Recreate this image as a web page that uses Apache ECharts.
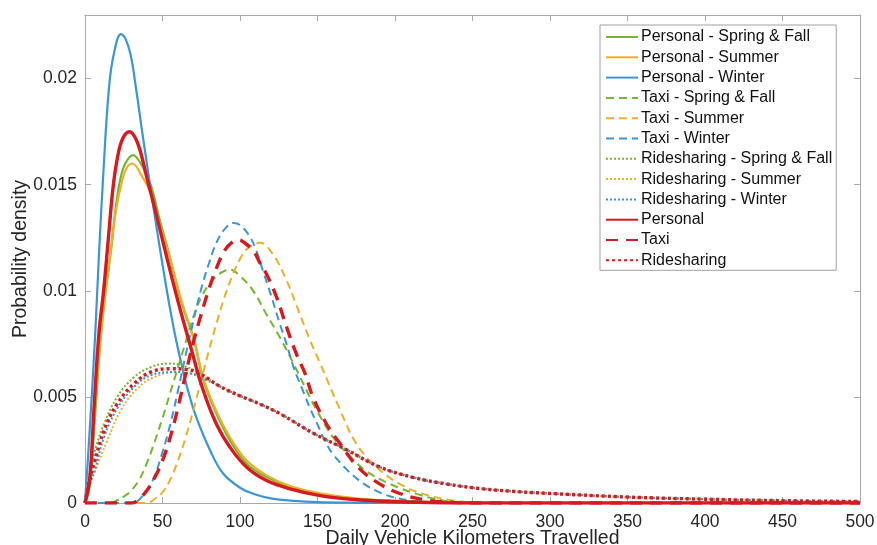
<!DOCTYPE html>
<html>
<head>
<meta charset="utf-8">
<script src="https://cdn.jsdelivr.net/npm/echarts@6/dist/echarts.min.js"></script>
<style>html,body{margin:0;padding:0;background:#fff}#c{width:877px;height:545px}</style>
</head>
<body>
<div id="c"></div>
<script>
// ---- data ----
const xTicks = [0, 50, 100, 150, 200, 250, 300, 350, 400, 450, 500];
const yTickLabels = ['0', '0.005', '0.01', '0.015', '0.02'];

// Personal - Spring & Fall
const psX = [0, 3, 6, 10, 13, 16.5, 20, 22.6, 26, 31, 36, 42.4, 48, 54.2, 62, 70.3, 76.3, 84.9, 93.5, 104.3, 117.2, 132.2, 151.6, 175, 200, 225, 250, 500];
const psY = [0, 0.0008, 0.0036, 0.0077, 0.0098, 0.01175, 0.0140, 0.0152, 0.0160, 0.0164, 0.0160, 0.0150, 0.0134, 0.01175, 0.0095, 0.0077, 0.0058, 0.0042, 0.00295, 0.00185, 0.00122, 0.00075, 0.00043, 0.0002, 0.0001, 0.00004, 0, 0];
// Personal - Summer
const puX = [0, 3, 6, 10, 13, 16.5, 20, 24, 27, 30.5, 36, 42.4, 48, 54.2, 62, 70.3, 76.3, 84.9, 93.5, 104.3, 117.2, 132.2, 151.6, 175, 200, 225, 250, 500];
const puY = [0, 0.0010, 0.0040, 0.0077, 0.0098, 0.0118, 0.0138, 0.0152, 0.0158, 0.0160, 0.0155, 0.0146, 0.0132, 0.0117, 0.0096, 0.0077, 0.0059, 0.0043, 0.0031, 0.0020, 0.0013, 0.0008, 0.00046, 0.00022, 0.0001, 0.00004, 0, 0];
// Personal - Winter
const pwX = [0, 3, 6.4, 9, 11.8, 15.5, 18.7, 23.2, 26, 29.5, 33, 36.3, 39.5, 43, 47, 51, 55, 59, 64, 68, 72, 80.6, 89, 100, 110, 120, 135, 150, 175, 200, 500];
const pwY = [0, 0.0034, 0.0077, 0.0117, 0.0155, 0.0196, 0.0212, 0.0221, 0.0219, 0.0211, 0.0195, 0.0178, 0.0162, 0.0145, 0.0126, 0.0108, 0.0091, 0.0076, 0.0060, 0.0049, 0.0040, 0.0025, 0.0014, 0.00072, 0.0004, 0.00022, 0.0001, 0.00004, 0.00001, 0, 0];

// Taxi - Spring & Fall
const tsX = [0, 15, 20, 25, 30, 35, 40, 45, 50, 55, 60, 65, 70, 75, 80, 85, 89, 93.5, 100, 108.5, 117, 125.8, 134.3, 143, 150, 160, 171, 181.6, 196.7, 214, 231, 250, 260, 500];
const tsY = [0, 0, 0.0001, 0.0003, 0.0006, 0.0011, 0.0019, 0.0029, 0.0040, 0.0052, 0.0064, 0.0076, 0.0088, 0.0097, 0.0103, 0.0107, 0.0109, 0.0110, 0.0107, 0.0100, 0.0089, 0.0078, 0.0066, 0.0053, 0.0043, 0.0031, 0.0022, 0.0015, 0.0009, 0.00043, 0.00012, 0.00002, 0, 0];
// Taxi - Summer
const tuX = [0, 40, 45, 50, 55, 60, 65, 70, 75, 80, 85, 90, 95, 100, 105, 113, 121.4, 130, 136.5, 145, 151.6, 164.5, 175, 188, 203, 218, 237.5, 255, 270, 500];
const tuY = [0, 0, 0.0002, 0.0005, 0.0011, 0.0020, 0.0031, 0.0044, 0.0058, 0.0072, 0.0085, 0.0097, 0.0107, 0.0115, 0.0120, 0.01226, 0.0117, 0.0105, 0.0093, 0.0077, 0.0066, 0.0044, 0.0028, 0.0017, 0.0009, 0.00043, 0.00012, 0.00002, 0, 0];
// Taxi - Winter
const twX = [0, 30, 40, 45, 50, 55, 60, 65, 70, 75, 80, 85, 90, 96, 100, 105, 110, 115, 120, 125, 130, 135, 140, 145, 150, 155, 160, 170, 180, 190, 200, 212, 230, 500];
const twY = [0, 0, 0.0006, 0.0013, 0.0024, 0.0037, 0.0053, 0.0070, 0.0086, 0.0101, 0.0113, 0.0123, 0.0129, 0.0132, 0.0131, 0.0127, 0.0120, 0.0109, 0.0098, 0.0086, 0.0075, 0.0063, 0.0054, 0.0045, 0.0037, 0.0029, 0.0023, 0.0015, 0.0009, 0.0005, 0.00025, 0.0001, 0, 0];

// Ridesharing - Spring & Fall
const rsX = [0, 1, 3, 5.8, 12.3, 20.8, 31.6, 42.4, 53, 62, 74, 87, 100, 113, 126, 147, 169, 190, 212, 233, 255, 276, 300, 350, 400, 450, 500];
const rsY = [0, 0.0005, 0.0014, 0.00232, 0.00374, 0.0050, 0.00593, 0.0064, 0.00657, 0.0065, 0.0061, 0.0055, 0.00505, 0.00466, 0.0042, 0.0033, 0.0025, 0.0017, 0.0012, 0.0009, 0.00068, 0.00055, 0.00045, 0.00028, 0.00018, 0.00011, 0.00007];
// Ridesharing - Summer
const ruX = [0, 1, 3, 6.5, 14.4, 23, 33.7, 44.5, 59.5, 70, 80, 87, 100, 113, 126, 147, 169, 190, 212, 233, 255, 276, 300, 350, 400, 450, 500];
const ruY = [0, 0.0003, 0.0008, 0.0015, 0.00295, 0.00436, 0.00539, 0.00593, 0.00617, 0.0061, 0.0058, 0.0055, 0.00505, 0.00466, 0.0042, 0.0033, 0.0025, 0.0017, 0.0012, 0.0009, 0.00068, 0.00055, 0.00045, 0.00028, 0.00018, 0.00011, 0.00007];
// Ridesharing - Winter
const rwX = [0, 1, 3, 6.5, 12.3, 20.8, 31.6, 42.4, 57.4, 68, 78, 87, 100, 113, 126, 147, 169, 190, 212, 233, 255, 276, 300, 350, 400, 450, 500];
const rwY = [0, 0.0003, 0.0009, 0.0016, 0.0031, 0.00445, 0.00546, 0.00602, 0.00617, 0.0061, 0.0058, 0.0055, 0.00505, 0.00466, 0.0042, 0.0033, 0.0025, 0.0017, 0.0012, 0.0009, 0.00068, 0.00055, 0.00045, 0.00028, 0.00018, 0.00011, 0.00007];

// Personal (all seasons)
const paX = [0, 3, 6, 9, 12, 15, 18, 21, 24.5, 28.8, 32.5, 36, 40, 46, 52, 60, 68, 76.3, 84.9, 93.5, 104.3, 117.2, 132.2, 151.6, 175, 200, 250, 500];
const paY = [0, 0.0011, 0.0047, 0.0080, 0.0100, 0.0124, 0.0148, 0.0163, 0.0172, 0.0175, 0.0172, 0.0165, 0.0153, 0.0136, 0.0118, 0.0095, 0.0074, 0.0053, 0.0037, 0.00263, 0.00169, 0.00106, 0.00067, 0.00035, 0.00015, 0.00006, 0, 0];
// Taxi (all seasons)
const taX = [0, 30, 35, 40, 45, 50, 55, 60, 65, 70, 75, 80, 85, 90, 95, 99, 104, 108.5, 113, 117, 123.6, 130, 136.5, 142, 147, 156, 164.5, 176, 190, 205, 222, 240, 250, 500];
const taY = [0, 0, 0.0002, 0.0006, 0.0012, 0.0020, 0.0031, 0.0045, 0.0061, 0.0076, 0.0089, 0.0101, 0.0111, 0.0119, 0.0123, 0.0124, 0.0122, 0.0119, 0.0113, 0.0108, 0.0097, 0.0083, 0.0070, 0.0061, 0.0050, 0.0037, 0.0028, 0.0017, 0.0009, 0.0004, 0.00012, 0.00002, 0, 0];
// Ridesharing (all seasons)
const raX = [0, 1, 3, 5.8, 12.3, 20.8, 31.6, 42.4, 55, 65, 74, 87, 100, 113, 126, 147, 169, 190, 212, 233, 255, 276, 300, 350, 400, 450, 500];
const raY = [0, 0.0004, 0.0011, 0.00185, 0.00342, 0.00468, 0.00562, 0.00617, 0.00633, 0.0063, 0.0061, 0.0055, 0.00505, 0.00466, 0.0042, 0.0033, 0.0025, 0.0017, 0.0012, 0.0009, 0.00068, 0.00055, 0.00045, 0.00028, 0.00018, 0.00011, 0.00007];

const seriesNames = [
  'Personal - Spring & Fall', 'Personal - Summer', 'Personal - Winter',
  'Taxi - Spring & Fall', 'Taxi - Summer', 'Taxi - Winter',
  'Ridesharing - Spring & Fall', 'Ridesharing - Summer', 'Ridesharing - Winter',
  'Personal', 'Taxi', 'Ridesharing'
];
const seriesX = [psX, puX, pwX, tsX, tuX, twX, rsX, ruX, rwX, paX, taX, raX];
const seriesY = [psY, puY, pwY, tsY, tuY, twY, rsY, ruY, rwY, paY, taY, raY];

// ---- styling ----
const GREEN = '#77B530', ORANGE = '#EBAF28', BLUE = '#3A96D6', RED = '#D51A20';
const styles = [
  {c: GREEN, w: 2.2, t: 'solid'}, {c: ORANGE, w: 2.2, t: 'solid'}, {c: BLUE, w: 2.2, t: 'solid'},
  {c: GREEN, w: 2, t: [8, 5]}, {c: ORANGE, w: 2, t: [8, 5]}, {c: BLUE, w: 2, t: [8, 5]},
  {c: GREEN, w: 2, t: [2, 2]}, {c: ORANGE, w: 2, t: [2, 2]}, {c: BLUE, w: 2, t: [2, 2]},
  {c: RED, w: 3.4, t: 'solid'}, {c: RED, w: 3.4, t: [12, 8]}, {c: RED, w: 3.4, t: [3, 3]}
];

const FONT = "'Liberation Sans', Arial, Helvetica, sans-serif";
const series = seriesNames.map((n, i) => ({
  name: n,
  type: 'line',
  xAxisIndex: 0,
  yAxisIndex: 0,
  symbol: 'none',
  showSymbol: false,
  smooth: 0.4,
  clip: true,
  color: styles[i].c,
  lineStyle: {color: styles[i].c, width: styles[i].w, type: styles[i].t, cap: 'butt'},
  data: seriesX[i].map((x, k) => [x, seriesY[i][k]]),
  animation: false
}));

const axisLineStyle = {color: '#a8a8a8', width: 1};
const chart = echarts.init(document.getElementById('c'), null, {renderer: 'canvas'});
chart.setOption({
  backgroundColor: '#ffffff',
  animation: false,
  textStyle: {fontFamily: FONT},
  grid: {left: 85, right: 17, top: 15, bottom: 42, containLabel: false, outerBoundsMode: 'none'},
  legend: {
    orient: 'vertical',
    left: 600,
    top: 25,
    data: seriesNames,
    itemWidth: 32,
    itemHeight: 14,
    itemGap: 4.3,
    padding: [4, 4, 2, 5],
    borderColor: '#a0a0a0',
    borderWidth: 1,
    backgroundColor: '#ffffff',
    itemStyle: {opacity: 0},
    textStyle: {fontFamily: FONT, fontSize: 16, color: '#111111', padding: [0, 0, 0, -2]},
    selectedMode: false
  },
  xAxis: [{
    type: 'value', min: 0, max: 500, interval: 50, position: 'bottom',
    axisLine: {show: true, onZero: false, lineStyle: axisLineStyle},
    axisTick: {show: true, inside: true, length: 6, lineStyle: axisLineStyle},
    axisLabel: {fontFamily: FONT, fontSize: 17.5, color: '#262626', margin: 10,
      formatter: v => (xTicks.indexOf(v) >= 0 ? String(v) : '')},
    splitLine: {show: false},
    name: 'Daily Vehicle Kilometers Travelled',
    nameLocation: 'middle',
    nameGap: 26,
    nameMoveOverlap: false,
    nameTextStyle: {fontFamily: FONT, fontSize: 19.5, color: '#262626'}
  }, {
    type: 'value', min: 0, max: 500, interval: 50, position: 'top',
    axisLine: {show: true, onZero: false, lineStyle: axisLineStyle},
    axisTick: {show: true, inside: true, length: 6, lineStyle: axisLineStyle},
    axisLabel: {show: false},
    splitLine: {show: false}
  }],
  yAxis: [{
    type: 'value', min: 0, max: 0.023, interval: 0.005, position: 'left',
    axisLine: {show: true, onZero: false, lineStyle: axisLineStyle},
    axisTick: {show: true, inside: true, length: 6, lineStyle: axisLineStyle},
    axisLabel: {fontFamily: FONT, fontSize: 17.5, color: '#262626', margin: 8, showMaxLabel: false,
      formatter: v => { const i = Math.round(v / 0.005); return (Math.abs(v - i * 0.005) < 1e-9 && i < yTickLabels.length) ? yTickLabels[i] : ''; }},
    splitLine: {show: false},
    name: 'Probability density',
    nameLocation: 'middle',
    nameGap: 54,
    nameMoveOverlap: false,
    nameTextStyle: {fontFamily: FONT, fontSize: 19.5, color: '#262626'}
  }, {
    type: 'value', min: 0, max: 0.023, interval: 0.005, position: 'right',
    axisLine: {show: true, onZero: false, lineStyle: axisLineStyle},
    axisTick: {show: true, inside: true, length: 6, lineStyle: axisLineStyle},
    axisLabel: {show: false},
    splitLine: {show: false}
  }],
  series: series
});
</script>
</body>
</html>
